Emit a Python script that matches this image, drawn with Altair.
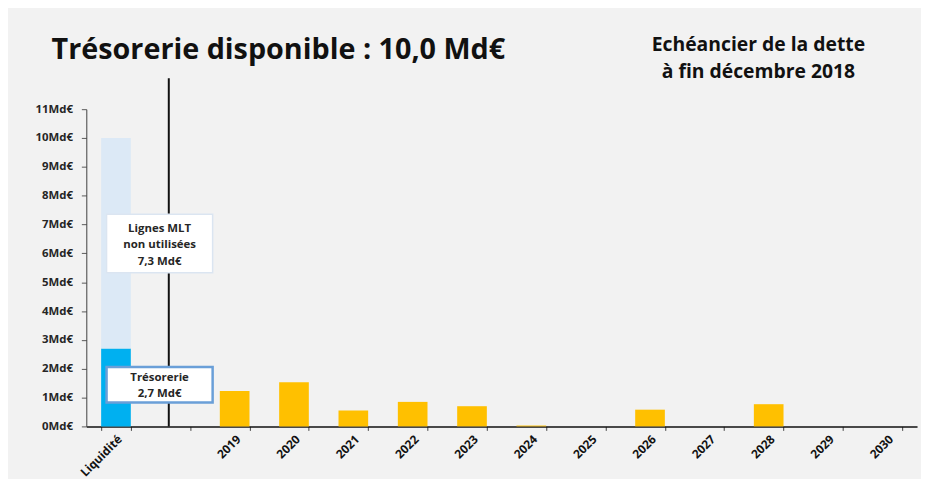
import altair as alt
import pandas as pd

# ---- data ----
categories = ["Liquidité", " ", "2019", "2020", "2021", "2022", "2023", "2024",
              "2025", "2026", "2027", "2028", "2029", "2030"]
years = ["2019", "2020", "2021", "2022", "2023", "2024", "2025", "2026",
         "2027", "2028", "2029", "2030"]
debt = [1.23, 1.53, 0.55, 0.85, 0.70, 0.03, 0.0, 0.58, 0.0, 0.77, 0.0, 0.0]
liq_parts = ["Trésorerie", "Lignes MLT non utilisées"]
liq_values = [2.7, 7.3]
liq_colors = ["#00b0f0", "#dce9f6"]
y_ticks = [0.0, 1.0, 2.0, 3.0, 4.0, 5.0, 6.0, 7.0, 8.0, 9.0, 10.0, 11.0]

title_text = "Trésorerie disponible : 10,0 Md€"
subtitle_text = "Echéancier de la dette\nà fin décembre 2018"
box_labels = ["Lignes MLT\nnon utilisées\n7,3 Md€", "Trésorerie\n2,7 Md€"]
box_low = [5.33, 0.83]
box_high = [7.36, 2.06]
box_first_line = [6.84, 1.68]

FONT = "Open Sans"

debt_df = pd.DataFrame({"cat": years, "value": debt})
liq_start = [0.0, liq_values[0]]
liq_end = [liq_values[0], liq_values[0] + liq_values[1]]
liq_df = pd.DataFrame({"cat": ["Liquidité"] * 2, "part": liq_parts,
                       "y0": liq_start, "y1": liq_end})
box_df = pd.DataFrame({"cat": ["Liquidité"] * 2, "label": box_labels,
                       "lo": box_low, "hi": box_high, "first": box_first_line,
                       "k": ["mlt", "treso"]})
sep_df = pd.DataFrame({"cat": [" "], "y0": [0.0], "y1": [12.07]})

xscale = alt.Scale(domain=categories, paddingInner=0.5, paddingOuter=0.25)
yscale = alt.Scale(domain=[0, 11], nice=False, zero=True)

x_axis = alt.Axis(title=None, labelAngle=-45, labelFont=FONT, labelFontWeight="bold",
                  labelFontSize=12, labelColor="#111111", tickBand="extent",
                  tickSize=4, tickColor="#404040", domainColor="#111111",
                  domainWidth=1.5, labelPadding=3, labelOverlap=False)
y_axis = alt.Axis(title=None, values=y_ticks, tickCount=12,
                  labelExpr="format(datum.value, 'd') + 'Md€'",
                  labelFont=FONT, labelFontWeight="bold", labelFontSize=11.5,
                  labelColor="#262626", tickSize=5, tickColor="#595959",
                  domainColor="#404040", labelPadding=9, grid=False,
                  labelOverlap=False, labelFlush=False)


def X():
    return alt.X("cat:N", scale=xscale, axis=x_axis, sort=categories)


liq = alt.Chart(liq_df).mark_bar().encode(
    x=X(),
    y=alt.Y("y0:Q", scale=yscale, axis=y_axis),
    y2="y1:Q",
    color=alt.Color("part:N", scale=alt.Scale(domain=liq_parts, range=liq_colors),
                    legend=None),
)

bars = alt.Chart(debt_df).mark_bar(color="#ffc000").encode(
    x=X(),
    y=alt.Y("value:Q", scale=yscale, axis=y_axis),
)

sep = alt.Chart(sep_df).mark_rule(color="#111111", strokeWidth=2).encode(
    x=alt.X("cat:N", scale=xscale, axis=x_axis, sort=categories, bandPosition=0.28),
    y=alt.Y("y0:Q", scale=yscale, axis=y_axis),
    y2="y1:Q",
)

boxes = alt.Chart(box_df).mark_bar(width=107, xOffset=44, fill="white").encode(
    x=X(),
    y=alt.Y("lo:Q", scale=yscale, axis=y_axis),
    y2="hi:Q",
    stroke=alt.Stroke("k:N", scale=alt.Scale(domain=["mlt", "treso"],
                                             range=["#dbe5f1", "#6a9fd8"]),
                      legend=None),
    strokeWidth=alt.StrokeWidth("k:N", scale=alt.Scale(domain=["mlt", "treso"],
                                                       range=[1.5, 2.5]),
                                legend=None),
)

box_text = alt.Chart(box_df).mark_text(
    font=FONT, fontWeight="bold", fontSize=11.5, color="#262626",
    lineBreak="\n", lineHeight=16.5, xOffset=44, baseline="middle", align="center"
).encode(
    x=X(),
    y=alt.Y("first:Q", scale=yscale, axis=y_axis),
    text="label:N",
)

title = alt.Chart(pd.DataFrame({"t": [title_text]})).mark_text(
    font=FONT, fontWeight="bold", fontSize=29, color="#111111",
    align="left", baseline="alphabetic"
).encode(x=alt.value(-35), y=alt.value(-51), text="t:N")

subtitle = alt.Chart(pd.DataFrame({"t": [subtitle_text]})).mark_text(
    font=FONT, fontWeight="bold", fontSize=19.5, color="#111111",
    align="center", baseline="middle", lineBreak="\n", lineHeight=28
).encode(x=alt.value(678), y=alt.value(-65), text="t:N")

chart = alt.layer(liq, bars, sep, boxes, box_text, title, subtitle).properties(
    width=838, height=320,
    autosize=alt.AutoSizeParams(type="none"),
    padding={"left": 79, "top": 100, "right": 4, "bottom": 51},
    background="#f2f2f2",
).configure_view(stroke=None)

chart.save("out.html", embed_options={"renderer": "svg", "actions": False})
